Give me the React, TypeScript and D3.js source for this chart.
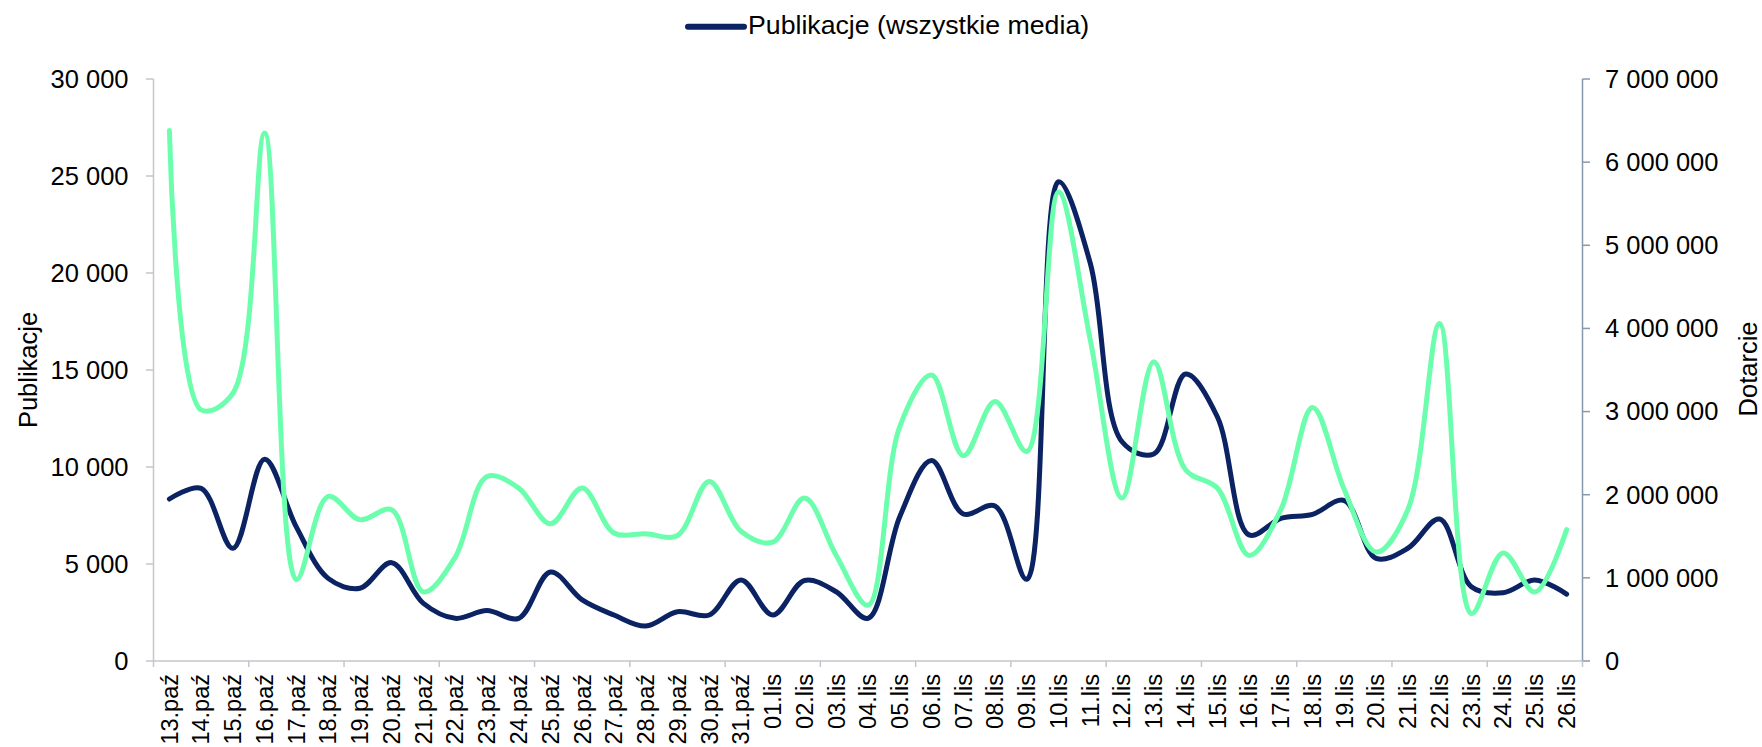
import React from "react";
import * as d3 from "d3";

const categories = [
  "13.paź","14.paź","15.paź","16.paź","17.paź","18.paź","19.paź","20.paź","21.paź","22.paź",
  "23.paź","24.paź","25.paź","26.paź","27.paź","28.paź","29.paź","30.paź","31.paź",
  "01.lis","02.lis","03.lis","04.lis","05.lis","06.lis","07.lis","08.lis","09.lis","10.lis",
  "11.lis","12.lis","13.lis","14.lis","15.lis","16.lis","17.lis","18.lis","19.lis","20.lis",
  "21.lis","22.lis","23.lis","24.lis","25.lis","26.lis",
];

const publikacje = [
  8350, 8900, 5810, 10400, 6900, 4260, 3750, 5070, 2970, 2200,
  2600, 2200, 4590, 3150, 2370, 1800, 2540, 2370, 4180, 2370,
  4150, 3570, 2200, 7440, 10330, 7580, 7990, 4210, 24700, 20500,
  11300, 10670, 14790, 12590, 6500, 7350, 7560, 8270, 5290, 5810,
  7320, 3830, 3520, 4180, 3450,
];

const dotarcie = [
  6380000, 3020000, 3220000, 6350000, 980000, 1980000, 1700000, 1820000, 830000, 1250000,
  2220000, 2080000, 1650000, 2080000, 1540000, 1530000, 1510000, 2160000, 1560000, 1430000,
  1960000, 1270000, 670000, 2820000, 3440000, 2470000, 3120000, 2520000, 5640000, 3860000,
  1960000, 3600000, 2300000, 2080000, 1270000, 1820000, 3050000, 2060000, 1310000, 1820000,
  4060000, 570000, 1300000, 830000, 1580000,
];

const leftTicks = [0, 5000, 10000, 15000, 20000, 25000, 30000];
const rightTicks = [0, 1000000, 2000000, 3000000, 4000000, 5000000, 6000000, 7000000];

const legendLabel = "Publikacje (wszystkie media)";
const leftTitle = "Publikacje";
const rightTitle = "Dotarcie";

const W = 1762;
const H = 747;
const M = { left: 153.5, right: 1582.5, top: 79, bottom: 661 };
const FONT = "'Liberation Sans', Arial, sans-serif";
const NAVY = "#0b2363";
const GREEN = "#6bffad";

const fmt = (v: number) => d3.format(",")(v).replace(/,/g, " ");

export default function App() {
  const x = d3.scaleBand<string>().domain(categories).range([M.left, M.right]).paddingInner(0).paddingOuter(0);
  const yL = d3.scaleLinear().domain([0, 30000]).range([M.bottom, M.top]);
  const yR = d3.scaleLinear().domain([0, 7000000]).range([M.bottom, M.top]);
  const cx = (c: string) => (x(c) as number) + x.bandwidth() / 2;

  const lineL = d3
    .line<number>()
    .x((_, i) => cx(categories[i]))
    .y((d) => yL(d))
    .curve(d3.curveCatmullRom.alpha(0.5));
  const lineR = d3
    .line<number>()
    .x((_, i) => cx(categories[i]))
    .y((d) => yR(d))
    .curve(d3.curveCatmullRom.alpha(0.5));

  const xTickIdx = d3.range(0, categories.length + 1, 3);
  const xTickPos = (i: number) => (i < categories.length ? (x(categories[i]) as number) : M.right);

  return (
    <div style={{ position: "fixed", left: 0, top: 0, width: W, height: H, background: "#fff" }}>
      <svg width={W} height={H} style={{ display: "block", fontFamily: FONT }}>
        {/* Legend */}
        <line x1={688} x2={744} y1={26.7} y2={26.7} stroke={NAVY} strokeWidth={6} strokeLinecap="round" />
        <text x={748} y={34} fontSize={26.7} fill="#000">{legendLabel}</text>

        {/* Left axis */}
        <line x1={M.left} x2={M.left} y1={M.top} y2={M.bottom} stroke="#c3c6ca" strokeWidth={1.5} />
        {leftTicks.map((t) => (
          <g key={"l" + t}>
            <line x1={M.left - 7.5} x2={M.left} y1={yL(t)} y2={yL(t)} stroke="#c3c6ca" strokeWidth={1.5} />
            <text x={128.5} y={yL(t)} dy="0.35em" textAnchor="end" fontSize={25.5} fill="#000">{fmt(t)}</text>
          </g>
        ))}

        {/* Right axis */}
        <line x1={M.right} x2={M.right} y1={M.top} y2={M.bottom} stroke="#8898aa" strokeWidth={1.5} />
        {rightTicks.map((t) => (
          <g key={"r" + t}>
            <line x1={M.right} x2={M.right + 7.5} y1={yR(t)} y2={yR(t)} stroke="#8898aa" strokeWidth={1.5} />
            <text x={1605} y={yR(t)} dy="0.35em" textAnchor="start" fontSize={25.5} fill="#000">{fmt(t)}</text>
          </g>
        ))}

        {/* Bottom axis */}
        <line x1={M.left} x2={M.right} y1={M.bottom} y2={M.bottom} stroke="#c3c6ca" strokeWidth={1.5} />
        {xTickIdx.map((i) => (
          <line key={"xt" + i} x1={xTickPos(i)} x2={xTickPos(i)} y1={M.bottom} y2={M.bottom + 6} stroke="#c3c6ca" strokeWidth={1.5} />
        ))}
        {categories.map((c) => (
          <text
            key={"xl" + c}
            transform={`translate(${cx(c) + 8.3},${674}) rotate(-90)`}
            textAnchor="end"
            fontSize={23.5}
            fill="#000"
          >
            {c}
          </text>
        ))}

        {/* Axis titles */}
        <text transform={`translate(36.5,370) rotate(-90)`} textAnchor="middle" fontSize={25.5} fill="#000">{leftTitle}</text>
        <text transform={`translate(1757,369) rotate(-90)`} textAnchor="middle" fontSize={25.5} fill="#000">{rightTitle}</text>

        {/* Series */}
        <path d={lineL(publikacje) || ""} fill="none" stroke={NAVY} strokeWidth={5} strokeLinejoin="round" strokeLinecap="round" />
        <path d={lineR(dotarcie) || ""} fill="none" stroke={GREEN} strokeWidth={5} strokeLinejoin="round" strokeLinecap="round" />
      </svg>
    </div>
  );
}
